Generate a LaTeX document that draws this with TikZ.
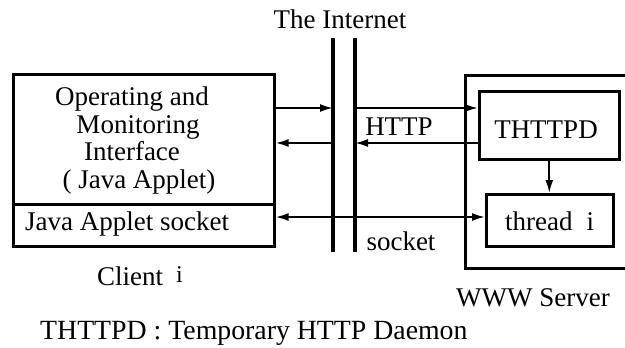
\documentclass[tikz,border=0pt]{standalone}
\usepackage{fontspec}
\setmainfont{Liberation Serif}
\usetikzlibrary{arrows.meta}
\begin{document}
\begin{tikzpicture}[x=1pt,y=-1pt,
  box/.style={draw, line width=2.6pt, inner sep=0pt},
  net/.style={line width=3.3pt},
  arr/.style={line width=2pt, -{Latex[length=13pt,width=8pt]}},
  dblarr/.style={line width=2pt, {Latex[length=13pt,width=8pt]}-{Latex[length=13pt,width=8pt]}},
  lbl/.style={anchor=base, inner sep=0pt, font=\fontsize{27}{28}\selectfont}]
\clip (0,0) rectangle (625,348);
\fill[white] (0,0) rectangle (625,348);
% client
\node[box, minimum width=261pt, minimum height=130pt, anchor=north west] (cli) at (12,73) {};
\node[box, minimum width=261pt, minimum height=42pt, anchor=north west] (sock) at (12,203) {};
\node[lbl] (t1) at (132,105) {Operating and};
\node[lbl] (t2) at (138,133) {Monitoring};
\node[lbl] (t3) at (132,160) {Interface};
\node[lbl] (t4) at (139,188) {( Java Applet)};
\node[lbl, anchor=base west] (t5) at (25,230) {Java Applet socket};
\node[lbl, anchor=base west] (clientlbl) at (97,285) {Client\hspace{13pt}\raisebox{3pt}{\fontsize{24}{25}\selectfont i}};
% internet
\coordinate (n1t) at (333,38); \coordinate (n1b) at (333,252);
\coordinate (n2t) at (355,38); \coordinate (n2b) at (355,252);
\draw[net] (n1t) -- (n1b);
\draw[net] (n2t) -- (n2b);
\node[lbl] (inet) at (340,28) {The Internet};
% server
\node[box, minimum width=200pt, minimum height=193pt, anchor=north west] (srv) at (464,74) {};
\node[box, minimum width=140pt, minimum height=68pt, anchor=north west] (thttpd) at (478,90) {};
\node[box, minimum width=127pt, minimum height=52pt, anchor=north west] (thread) at (485,193) {};
\node[lbl] (thttpdlbl) at (546,138) {THTTPD};
\node[lbl, anchor=base west] (threadlbl) at (505,230) {thread\hspace{14pt}i};
\node[lbl] (srvlbl) at (533,306) {WWW Server};
% labels
\node[lbl] (http) at (399,135) {HTTP};
\node[lbl] (socketlbl) at (401,250) {socket};
\node[lbl, anchor=base west, font=\fontsize{27.8}{29}\selectfont] (legend) at (40,339) {THTTPD : Temporary HTTP Daemon};
% arrows
\coordinate (a1) at (333,108);
\coordinate (a2) at (355,108);
\coordinate (b1) at (333,143);
\coordinate (b2) at (355,143);
\coordinate (s) at (340,217);
\draw[arr] (cli.east |- a1) -- (a1);
\draw[arr] (a2) -- (thttpd.west |- a2);
\draw[arr] (thttpd.west |- b2) -- (b2);
\draw[arr] (b1) -- (cli.east |- b1);
\draw[dblarr] (sock.east |- s) -- (thread.west |- s);
\draw[arr] (thttpd.south) -- (thttpd.south |- thread.north);
\end{tikzpicture}
\end{document}
